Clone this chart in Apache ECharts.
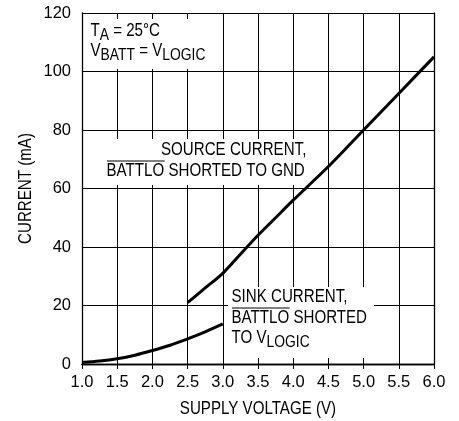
<!DOCTYPE html>
<html>
<head>
<meta charset="utf-8">
<script src="https://cdn.jsdelivr.net/npm/echarts@6/dist/echarts.min.js"></script>
<style>
html,body{margin:0;padding:0;background:#fff;}
#chart{width:459px;height:421px;}
</style>
</head>
<body>
<div id="chart"></div>
<script>
// ---- data ----
const sourceVoltage = [2.5, 2.75, 3.0, 3.25, 3.5, 3.75, 4.0, 4.5, 5.0, 5.5, 6.0];
const sourceCurrent = [21, 26, 31, 37.5, 44, 50, 56, 67.5, 80, 92.5, 105];
const sinkVoltage = [1.0, 1.25, 1.5, 1.75, 2.0, 2.25, 2.5, 2.75, 3.0];
const sinkCurrent = [0.5, 1.0, 1.8, 3.0, 4.6, 6.4, 8.6, 11.0, 13.7];
const xTitle = 'SUPPLY VOLTAGE (V)';
const yTitle = 'CURRENT (mA)';

const FF = '"Liberation Sans", Arial, sans-serif';
const FS = 18, SS = 16.5, SX = 0.84;

function measure(t, size) {
  const c = document.createElement('canvas').getContext('2d');
  c.font = size + 'px ' + FF;
  return c.measureText(t).width;
}

const rich = {
  n: { fontFamily: FF, fontSize: FS, lineHeight: 20, verticalAlign: 'top', color: '#000' },
  s: { fontFamily: FF, fontSize: SS, lineHeight: 20, verticalAlign: 'top', padding: [5, 0, 0, 0], color: '#000' }
};

function txt(x, y, text) {
  return { type: 'text', x: x, y: y, scaleX: SX, z: 5,
    style: { text: text, rich: rich, fill: '#000', font: FS + 'px ' + FF, verticalAlign: 'top', align: 'left' } };
}
function title(x, y, text, rot) {
  return { type: 'text', x: x, y: y, scaleX: SX, rotation: rot, z: 5,
    style: { text: text, fill: '#000', font: FS + 'px ' + FF, verticalAlign: 'middle', align: 'center' } };
}
function box(x, y, w, h) {
  return { type: 'rect', z: 1, shape: { x: x, y: y, width: w, height: h }, style: { fill: '#fff' } };
}
function overline(x, y, word) {
  const w = measure(word, FS) * SX;
  return { type: 'line', z: 5, shape: { x1: x, y1: y, x2: x + w, y2: y }, style: { stroke: '#000', lineWidth: 1 } };
}

const chart = echarts.init(document.getElementById('chart'));
const axisCommon = {
  type: 'value',
  axisLine: { show: true, lineStyle: { color: '#000', width: 1.3 } },
  axisTick: { show: true, inside: true, length: 5, lineStyle: { color: '#000', width: 1 } }
};
const labelStyle = { fontFamily: FF, fontSize: 16.5, color: '#000' };
chart.setOption({
  animation: false,
  backgroundColor: '#fff',
  grid: { left: 82, top: 13, right: 25, bottom: 57 },
  xAxis: [
    Object.assign({}, axisCommon, {
      min: 1.0, max: 6.0, interval: 0.5, position: 'bottom',
      axisLabel: Object.assign({ margin: 10, formatter: v => v.toFixed(1) }, labelStyle),
      splitLine: { show: true, lineStyle: { color: '#000', width: 1 } }
    }),
    Object.assign({}, axisCommon, {
      min: 1.0, max: 6.0, interval: 0.5, position: 'top',
      axisLabel: { show: false }, splitLine: { show: false }
    })
  ],
  yAxis: [
    Object.assign({}, axisCommon, {
      min: 0, max: 120, interval: 20, position: 'left',
      axisLabel: Object.assign({ margin: 11 }, labelStyle),
      splitLine: { show: true, lineStyle: { color: '#000', width: 1 } }
    }),
    Object.assign({}, axisCommon, {
      min: 0, max: 120, interval: 20, position: 'right',
      axisLabel: { show: false }, splitLine: { show: false }
    })
  ],
  series: [
    {
      type: 'line', name: 'source', smooth: 0.3, showSymbol: false, z: 3,
      data: sourceVoltage.map((v, i) => [v, sourceCurrent[i]]),
      lineStyle: { color: '#000', width: 3 }
    },
    {
      type: 'line', name: 'sink', smooth: 0.3, showSymbol: false, z: 3,
      data: sinkVoltage.map((v, i) => [v, sinkCurrent[i]]),
      lineStyle: { color: '#000', width: 3 }
    }
  ],
  graphic: [
    box(84, 19, 127, 50),
    box(100, 139, 212, 46),
    box(228, 287, 146, 71),
    txt(90.5, 22, '{n|T}{s|A}{n| = 25°C}'),
    txt(90.5, 42, '{n|V}{s|BATT}{n| = V}{s|LOGIC}'),
    txt(161, 141, '{n|SOURCE CURRENT,}'),
    txt(106.5, 162.5, '{n|BATTLO SHORTED TO GND}'),
    overline(107, 161, 'BATTLO'),
    txt(231.5, 288.5, '{n|SINK CURRENT,}'),
    txt(231.5, 309, '{n|BATTLO SHORTED}'),
    overline(232, 308, 'BATTLO'),
    txt(231.5, 329, '{n|TO V}{s|LOGIC}'),
    title(258, 409.5, xTitle, 0),
    title(26, 188.5, yTitle, Math.PI / 2)
  ]
});
</script>
</body>
</html>
